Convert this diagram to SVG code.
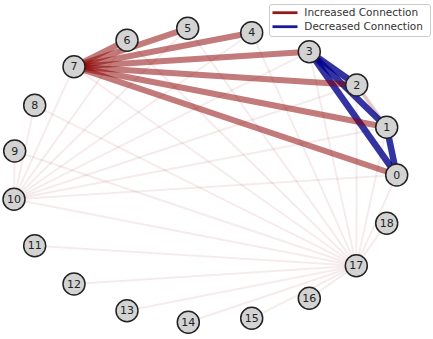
<svg xmlns="http://www.w3.org/2000/svg" width="433" height="339" viewBox="0 0 433 339">
<style>
.faint{stroke:#8b0000;stroke-opacity:0.08;stroke-width:2;fill:none}
.inc{stroke:#8b0000;stroke-opacity:0.52;stroke-width:6;fill:none}
.incl{stroke:#8b0000;stroke-opacity:0.22;stroke-width:3.5;fill:none}
.dec{stroke:#00008b;stroke-opacity:0.8;stroke-width:6.5;fill:none}
.node circle{fill:#d3d3d3;stroke:#222;stroke-width:1.5}
.node text{font-family:"DejaVu Sans",sans-serif;font-size:11px;fill:#222;text-anchor:middle;dominant-baseline:central}
.leg{font-family:"DejaVu Sans",sans-serif;font-size:10.5px;fill:#333}
</style>
<rect width="433" height="339" fill="#fff"/>
<g id="connectors" stroke-linecap="butt">
<!-- faint star from 10 -->
<line class="faint" x1="14" y1="199.3" x2="396.7" y2="175"/>
<line class="faint" x1="14" y1="199.3" x2="386.7" y2="127.3"/>
<line class="faint" x1="14" y1="199.3" x2="356.7" y2="85"/>
<line class="faint" x1="14" y1="199.3" x2="309.3" y2="51.7"/>
<line class="faint" x1="14" y1="199.3" x2="251.7" y2="32.7"/>
<line class="faint" x1="14" y1="199.3" x2="187.7" y2="28.3"/>
<line class="faint" x1="14" y1="199.3" x2="127" y2="40.3"/>
<line class="faint" x1="14" y1="199.3" x2="74" y2="66.7"/>
<line class="faint" x1="14" y1="199.3" x2="34.7" y2="105.3"/>
<line class="faint" x1="14" y1="199.3" x2="14.7" y2="151"/>
<line class="faint" x1="14" y1="199.3" x2="356.3" y2="265.7"/>
<!-- faint star from 17 -->
<line class="faint" x1="356.3" y1="265.7" x2="396.7" y2="175"/>
<line class="faint" x1="356.3" y1="265.7" x2="386.7" y2="127.3"/>
<line class="faint" x1="356.3" y1="265.7" x2="356.7" y2="85"/>
<line class="faint" x1="356.3" y1="265.7" x2="309.3" y2="51.7"/>
<line class="faint" x1="356.3" y1="265.7" x2="251.7" y2="32.7"/>
<line class="faint" x1="356.3" y1="265.7" x2="187.7" y2="28.3"/>
<line class="faint" x1="356.3" y1="265.7" x2="127" y2="40.3"/>
<line class="faint" x1="356.3" y1="265.7" x2="74" y2="66.7"/>
<line class="faint" x1="356.3" y1="265.7" x2="34.7" y2="105.3"/>
<line class="faint" x1="356.3" y1="265.7" x2="14.7" y2="151"/>
<line class="faint" x1="356.3" y1="265.7" x2="34.7" y2="245.7"/>
<line class="faint" x1="356.3" y1="265.7" x2="74" y2="284"/>
<line class="faint" x1="356.3" y1="265.7" x2="127" y2="310.7"/>
<line class="faint" x1="356.3" y1="265.7" x2="188.3" y2="322.3"/>
<line class="faint" x1="356.3" y1="265.7" x2="251.7" y2="318.3"/>
<line class="faint" x1="356.3" y1="265.7" x2="309.3" y2="298.3"/>
<line class="faint" x1="356.3" y1="265.7" x2="386.7" y2="223.3"/>
<!-- light increased -->
<line class="incl" x1="356.7" y1="85" x2="386.7" y2="127.3"/>
<!-- decreased -->
<line class="dec" x1="309.3" y1="51.7" x2="356.7" y2="85"/>
<line class="dec" x1="309.3" y1="51.7" x2="386.7" y2="127.3"/>
<line class="dec" x1="309.3" y1="51.7" x2="396.7" y2="175"/>
<line class="dec" x1="386.7" y1="127.3" x2="396.7" y2="175"/>
<!-- increased -->
<line class="inc" x1="74" y1="66.7" x2="127" y2="40.3"/>
<line class="inc" x1="74" y1="66.7" x2="187.7" y2="28.3"/>
<line class="inc" x1="74" y1="66.7" x2="251.7" y2="32.7"/>
<line class="inc" x1="74" y1="66.7" x2="309.3" y2="51.7"/>
<line class="inc" x1="74" y1="66.7" x2="356.7" y2="85"/>
<line class="inc" x1="74" y1="66.7" x2="386.7" y2="127.3"/>
<line class="inc" x1="74" y1="66.7" x2="396.7" y2="175"/>
</g>
<g id="n0" class="node"><circle cx="396.7" cy="175" r="11"/><text x="396.7" y="175">0</text></g>
<g id="n1" class="node"><circle cx="386.7" cy="127.3" r="11"/><text x="386.7" y="127.3">1</text></g>
<g id="n2" class="node"><circle cx="356.7" cy="85" r="11"/><text x="356.7" y="85">2</text></g>
<g id="n3" class="node"><circle cx="309.3" cy="51.7" r="11"/><text x="309.3" y="51.7">3</text></g>
<g id="n4" class="node"><circle cx="251.7" cy="32.7" r="11"/><text x="251.7" y="32.7">4</text></g>
<g id="n5" class="node"><circle cx="187.7" cy="28.3" r="11"/><text x="187.7" y="28.3">5</text></g>
<g id="n6" class="node"><circle cx="127" cy="40.3" r="11"/><text x="127" y="40.3">6</text></g>
<g id="n7" class="node"><circle cx="74" cy="66.7" r="11"/><text x="74" y="66.7">7</text></g>
<g id="n8" class="node"><circle cx="34.7" cy="105.3" r="11"/><text x="34.7" y="105.3">8</text></g>
<g id="n9" class="node"><circle cx="14.7" cy="151" r="11"/><text x="14.7" y="151">9</text></g>
<g id="n10" class="node"><circle cx="14" cy="199.3" r="11"/><text x="14" y="199.3">10</text></g>
<g id="n11" class="node"><circle cx="34.7" cy="245.7" r="11"/><text x="34.7" y="245.7">11</text></g>
<g id="n12" class="node"><circle cx="74" cy="284" r="11"/><text x="74" y="284">12</text></g>
<g id="n13" class="node"><circle cx="127" cy="310.7" r="11"/><text x="127" y="310.7">13</text></g>
<g id="n14" class="node"><circle cx="188.3" cy="322.3" r="11"/><text x="188.3" y="322.3">14</text></g>
<g id="n15" class="node"><circle cx="251.7" cy="318.3" r="11"/><text x="251.7" y="318.3">15</text></g>
<g id="n16" class="node"><circle cx="309.3" cy="298.3" r="11"/><text x="309.3" y="298.3">16</text></g>
<g id="n17" class="node"><circle cx="356.3" cy="265.7" r="11"/><text x="356.3" y="265.7">17</text></g>
<g id="n18" class="node"><circle cx="386.7" cy="223.3" r="11"/><text x="386.7" y="223.3">18</text></g>
<g id="legend">
<rect x="269.5" y="4.5" width="161" height="32" rx="2.5" fill="#fff" fill-opacity="0.8" stroke="#ccc" stroke-width="1"/>
<line x1="272.5" y1="12.7" x2="297.5" y2="12.7" stroke="#8b0000" stroke-opacity="0.9" stroke-width="2.8"/>
<line x1="272.5" y1="26.7" x2="297.5" y2="26.7" stroke="#00008b" stroke-opacity="0.9" stroke-width="2.8"/>
<text class="leg" x="304.3" y="16.4">Increased Connection</text>
<text class="leg" x="304.3" y="30.4">Decreased Connection</text>
</g>
</svg>
